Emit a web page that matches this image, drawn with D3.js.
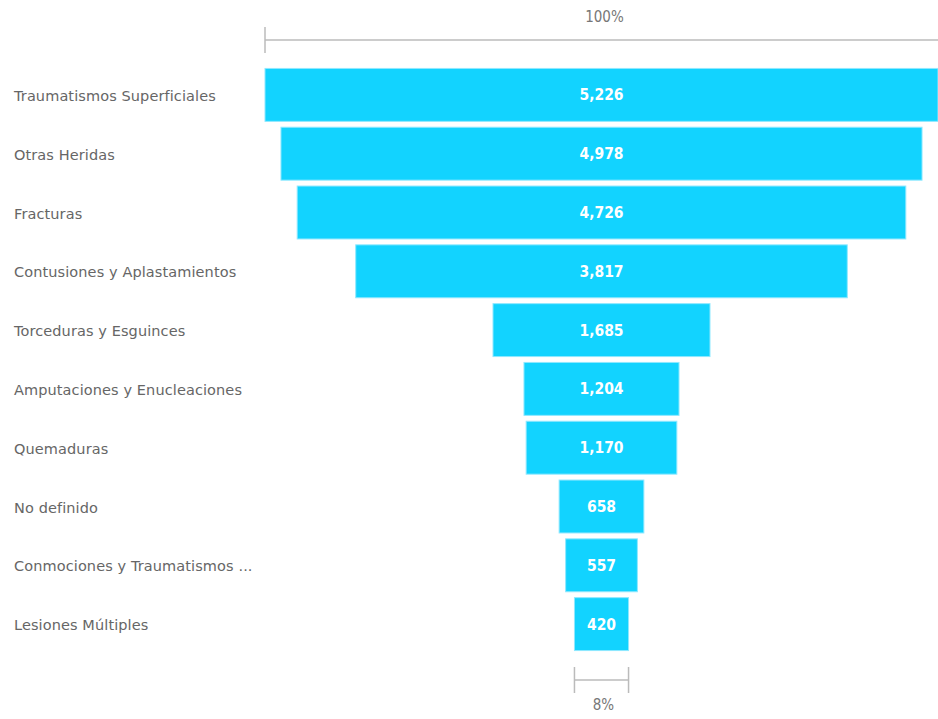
<!DOCTYPE html>
<html><head><meta charset="utf-8">
<script src="https://cdn.jsdelivr.net/npm/d3@7"></script>
<style>body{margin:0;background:#fff;} svg{display:block;}</style>
</head><body>
<script>
const categories = ["Traumatismos Superficiales","Otras Heridas","Fracturas","Contusiones y Aplastamientos","Torceduras y Esguinces","Amputaciones y Enucleaciones","Quemaduras","No definido","Conmociones y Traumatismos ...","Lesiones Múltiples"];
const values = [5226,4978,4726,3817,1685,1204,1170,658,557,420];
const topLabel = "100%";
const bottomLabel = "8%";

const W = 938, H = 719;
const svg = d3.select("body").append("svg").attr("width", W).attr("height", H);
const font = "'DejaVu Sans Condensed','Roboto',sans-serif";
const labelFont = "'DejaVu Sans','Roboto',sans-serif";

const cx = 601.5;
const maxV = d3.max(values);
const w = d3.scaleLinear().domain([0, maxV]).range([0, 673]);
const y = d3.scaleBand().domain(categories).range([65.5, 653.5]).paddingInner(0.1).paddingOuter(0.05);

const color = "#12D3FF";
svg.selectAll("rect.bar").data(values).join("rect")
  .attr("class","bar")
  .attr("x", d => cx - w(d)/2)
  .attr("y", (d,i) => y(categories[i]))
  .attr("width", d => w(d))
  .attr("height", y.bandwidth())
  .attr("fill", color)
  .attr("stroke", "#8fe8ff").attr("stroke-width", 1);

svg.selectAll("text.val").data(values).join("text")
  .attr("class","val")
  .attr("x", cx)
  .attr("y", (d,i) => y(categories[i]) + y.bandwidth()/2)
  .attr("dy","0.35em")
  .attr("text-anchor","middle")
  .attr("fill","#fff")
  .attr("font-family", font)
  .attr("font-weight","bold")
  .attr("font-size", 15.5)
  .text(d => d3.format(",")(d));

svg.selectAll("text.cat").data(categories).join("text")
  .attr("class","cat")
  .attr("x", 14)
  .attr("y", d => y(d) + y.bandwidth()/2 + 1)
  .attr("dy","0.35em")
  .attr("fill","#666")
  .attr("font-family", labelFont)
  .attr("font-size", 14.5)
  .attr("letter-spacing", 0.1)
  .text(d => d);

// top bracket
const g = svg.append("g").attr("stroke","#bbb").attr("stroke-width",1.5).attr("fill","none");
const topL = cx - w(maxV)/2, topR = cx + w(maxV)/2;
g.append("line").attr("x1",topL).attr("x2",topR).attr("y1",40).attr("y2",40);
g.append("line").attr("x1",topL).attr("x2",topL).attr("y1",27).attr("y2",53);
const lastV = values[values.length-1];
const botL = cx - w(lastV)/2, botR = cx + w(lastV)/2;
g.append("line").attr("x1",botL).attr("x2",botR).attr("y1",680).attr("y2",680);
g.append("line").attr("x1",botL).attr("x2",botL).attr("y1",667).attr("y2",693);
g.append("line").attr("x1",botR).attr("x2",botR).attr("y1",667).attr("y2",693);

svg.append("text").attr("x",cx+3).attr("y",17).attr("dy","0.35em").attr("text-anchor","middle")
  .attr("fill","#777").attr("font-family",font).attr("font-size",15).text(topLabel);
svg.append("text").attr("x",cx+2).attr("y",705).attr("dy","0.35em").attr("text-anchor","middle")
  .attr("fill","#777").attr("font-family",font).attr("font-size",15).text(bottomLabel);
</script>
</body></html>
